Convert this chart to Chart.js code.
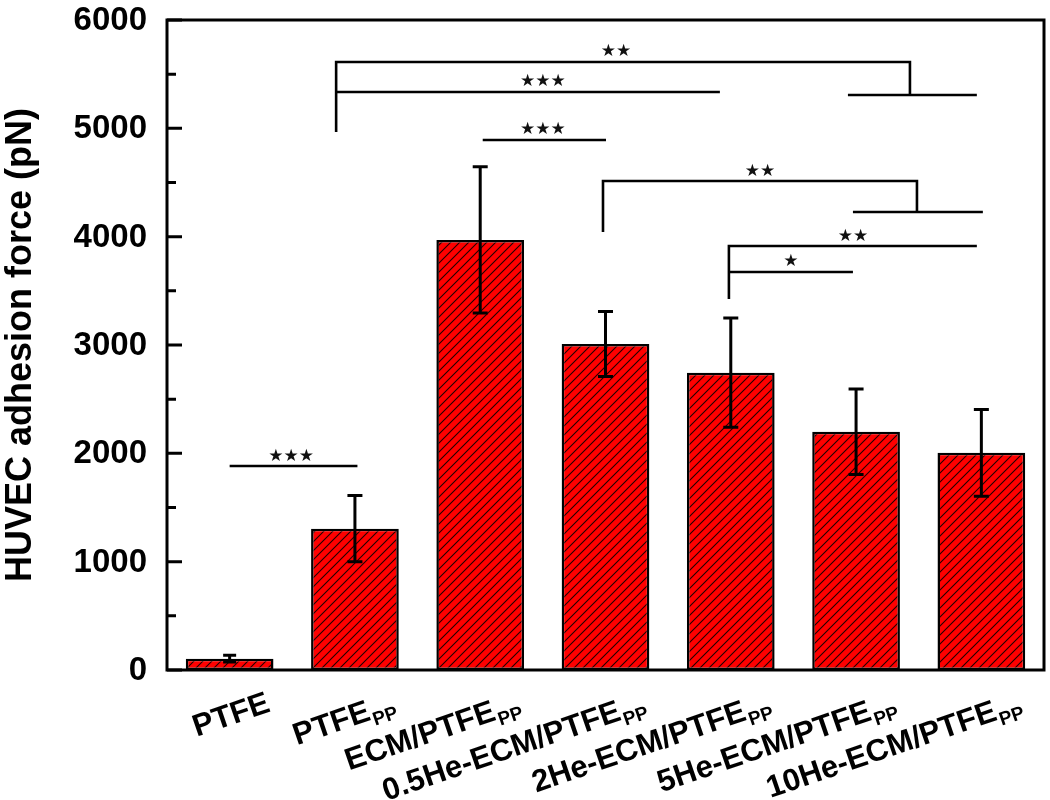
<!DOCTYPE html>
<html>
<head>
<meta charset="utf-8">
<script src="https://cdn.jsdelivr.net/npm/chart.js@4.4.1/dist/chart.umd.min.js"></script>
<style>
  html, body { margin: 0; padding: 0; background: #ffffff; }
  #wrap { width: 1050px; height: 800px; }
</style>
</head>
<body>
<div id="wrap"><canvas id="forceChart" width="1050" height="800"></canvas></div>
<script>
// HUVEC adhesion force bar chart, hatched red bars with SD error bars and significance brackets

const categories = ['PTFE', 'PTFE', 'ECM/PTFE', '0.5He-ECM/PTFE', '2He-ECM/PTFE', '5He-ECM/PTFE', '10He-ECM/PTFE']
const subscripts = ['', 'PP', 'PP', 'PP', 'PP', 'PP', 'PP']
const meanForce = [105, 1305, 3970, 3010, 2745, 2200, 2005]
const sdForce = [32, 305, 675, 300, 505, 395, 400]
const yTicks = [0, 1000, 2000, 3000, 4000, 5000, 6000]
const yMinorTicks = [500, 1500, 2500, 3500, 4500, 5500]

// significance brackets as polylines in [category index, force] units
const bracketLines = [
    [[0, 1883], [1.02, 1883]],
    [[0.85, 4966], [0.85, 5612], [5.43, 5612], [5.43, 5308]],
    [[4.935, 5308], [5.964, 5308]],
    [[0.85, 5335], [3.913, 5335]],
    [[2.02, 4892], [3.004, 4892]],
    [[2.98, 4043], [2.98, 4514], [5.486, 4514], [5.486, 4228]],
    [[4.975, 4228], [6.012, 4228]],
    [[3.985, 3425], [3.985, 3914], [5.964, 3914]],
    [[3.985, 3674], [4.975, 3674]]
]
const starText = ['★★★', '★★', '★★★', '★★★', '★★', '★★', '★']
const starAt = [0.49, 3.083, 2.5, 2.5, 4.233, 4.975, 4.48]
const starForce = [1966, 5705, 5428, 4985, 4597, 3997, 3766]

const FONT = '"Liberation Sans", Arial, sans-serif'

// red fill with thin dark diagonal hatching
function hatchPattern() {
    const c = document.createElement('canvas')
    c.width = 9; c.height = 9
    const g = c.getContext('2d')
    g.fillStyle = '#ff0000'
    g.fillRect(0, 0, 9, 9)
    g.strokeStyle = '#200000'
    g.lineWidth = 1.1
    g.beginPath()
    g.moveTo(0, 9); g.lineTo(9, 0)
    g.moveTo(-1, 1); g.lineTo(1, -1)
    g.moveTo(8, 10); g.lineTo(10, 8)
    g.stroke()
    return g.createPattern(c, 'repeat')
}

// frame, inward ticks, labels, error bars, brackets
const decorations = {
    id: 'decorations',
    afterDatasetsDraw(chart) {
        const ctx = chart.ctx
        const xs = chart.scales.x, ys = chart.scales.y
        const a = chart.chartArea
        ctx.save()
        ctx.strokeStyle = '#000'
        ctx.fillStyle = '#000'

        // error bars
        ctx.lineWidth = 3
        meanForce.forEach((m, i) => {
            const x = xs.getPixelForValue(i)
            const yt = ys.getPixelForValue(m + sdForce[i])
            const yb = ys.getPixelForValue(m - sdForce[i])
            const half = i === 0 ? 6.5 : 7.5
            ctx.beginPath()
            ctx.moveTo(x, yt); ctx.lineTo(x, yb)
            ctx.moveTo(x - half, yt); ctx.lineTo(x + half, yt)
            ctx.moveTo(x - half, yb); ctx.lineTo(x + half, yb)
            ctx.stroke()
        })

        // frame
        ctx.lineWidth = 3
        ctx.strokeRect(a.left, a.top, a.right - a.left, a.bottom - a.top)

        // inward ticks on the left axis
        ctx.beginPath()
        yTicks.forEach(v => {
            const y = ys.getPixelForValue(v)
            ctx.moveTo(a.left, y); ctx.lineTo(a.left + 15, y)
        })
        yMinorTicks.forEach(v => {
            const y = ys.getPixelForValue(v)
            ctx.moveTo(a.left, y); ctx.lineTo(a.left + 9, y)
        })
        ctx.stroke()

        // y tick labels
        ctx.font = `bold 33px ${FONT}`
        ctx.textAlign = 'right'
        ctx.textBaseline = 'middle'
        yTicks.forEach(v => ctx.fillText(String(v), a.left - 20, ys.getPixelForValue(v) + 1))

        // y title
        ctx.save()
        ctx.translate(21, (a.top + a.bottom) / 2)
        ctx.rotate(-Math.PI / 2)
        ctx.textAlign = 'center'
        ctx.font = `bold 36px ${FONT}`
        ctx.fillText('HUVEC adhesion force (pN)', 0, 0)
        ctx.restore()

        // rotated x labels with subscript
        categories.forEach((name, i) => {
            const x = xs.getPixelForValue(i) + 42
            ctx.save()
            ctx.translate(x, 711)
            ctx.rotate(-19 * Math.PI / 180)
            ctx.textBaseline = 'alphabetic'
            ctx.textAlign = 'right'
            let end = 0
            if (subscripts[i]) {
                ctx.font = `bold 19px ${FONT}`
                ctx.fillText(subscripts[i], 0, 7)
                end = -ctx.measureText(subscripts[i]).width - 1
            }
            ctx.font = `bold 31px ${FONT}`
            ctx.fillText(name, end, 0)
            ctx.restore()
        })

        // significance brackets
        ctx.lineWidth = 2.6
        ctx.lineCap = 'butt'
        ctx.lineJoin = 'miter'
        bracketLines.forEach(pts => {
            ctx.beginPath()
            pts.forEach((p, k) => {
                const px = xs.getPixelForValue(p[0]), py = ys.getPixelForValue(p[1])
                if (k === 0) ctx.moveTo(px, py); else ctx.lineTo(px, py)
            })
            ctx.stroke()
        })
        ctx.font = `17px "DejaVu Sans", sans-serif`
        ctx.textAlign = 'center'
        ctx.textBaseline = 'middle'
        ctx.fillStyle = '#111'
        starText.forEach((t, i) => ctx.fillText(t, xs.getPixelForValue(starAt[i]), ys.getPixelForValue(starForce[i])))

        ctx.restore()
    }
}

const chart = new Chart(document.getElementById('forceChart').getContext('2d'), {
    type: 'bar',
    data: {
        labels: categories.map((c, i) => c + subscripts[i]),
        datasets: [{
            data: meanForce,
            backgroundColor: hatchPattern(),
            borderColor: '#000000',
            borderWidth: 2.5,
            borderSkipped: false,
            categoryPercentage: 1,
            barPercentage: 0.7
        }]
    },
    options: {
        responsive: false,
        animation: false,
        devicePixelRatio: 1,
        layout: { padding: { top: 20, right: 6, left: 0, bottom: 0 } },
        plugins: { legend: { display: false }, tooltip: { enabled: false } },
        scales: {
            x: {
                type: 'category',
                offset: true,
                grid: { display: false, drawTicks: false },
                border: { display: false },
                ticks: { display: false },
                afterFit: (s) => { s.height = 130 }
            },
            y: {
                min: 0,
                max: 6000,
                grid: { display: false, drawTicks: false },
                border: { display: false },
                ticks: { display: false, stepSize: 1000 },
                afterFit: (s) => { s.width = 167 }
            }
        }
    },
    plugins: [decorations]
})
</script>
</body>
</html>
